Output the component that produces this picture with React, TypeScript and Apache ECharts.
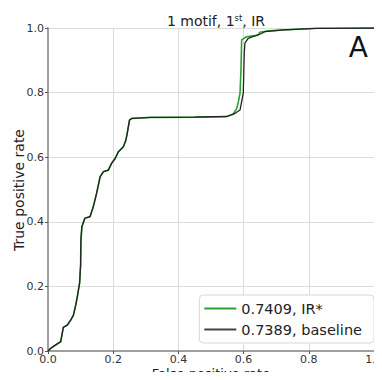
import React, { useEffect, useRef } from "react";
import * as echarts from "echarts";

const sharedFpr = [0, 0.008, 0.018, 0.039, 0.047, 0.059, 0.07, 0.078, 0.085, 0.09, 0.097, 0.1, 0.101, 0.104, 0.113, 0.129, 0.139, 0.149, 0.16, 0.17, 0.185, 0.195, 0.206, 0.216, 0.231, 0.239, 0.243, 0.25, 0.257, 0.313, 0.45, 0.548];
const sharedTpr = [0, 0.008, 0.015, 0.029, 0.073, 0.08, 0.096, 0.111, 0.142, 0.168, 0.211, 0.266, 0.344, 0.385, 0.411, 0.416, 0.447, 0.488, 0.54, 0.555, 0.56, 0.581, 0.596, 0.617, 0.632, 0.653, 0.674, 0.715, 0.72, 0.723, 0.724, 0.726];

const irFprUpper = [0.568, 0.579, 0.584, 0.589, 0.592, 0.594, 0.609, 0.645, 0.65, 0.676, 0.722, 0.824, 1.0];
const irTprUpper = [0.733, 0.751, 0.772, 0.798, 0.87, 0.963, 0.973, 0.978, 0.987, 0.991, 0.994, 0.999, 1.0];

const baseFprUpper = [0.574, 0.589, 0.599, 0.602, 0.604, 0.614, 0.655, 0.666, 0.722, 0.824, 1.0];
const baseTprUpper = [0.736, 0.746, 0.798, 0.922, 0.953, 0.968, 0.983, 0.989, 0.994, 0.999, 1.0];

const seriesNames = ["0.7409, IR*", "0.7389, baseline"];
const xAxisTitle = "False positive rate";
const yAxisTitle = "True positive rate";

const toPairs = (xs: number[], ys: number[]) => xs.map((x, i) => [x, ys[i]]);

const FONT = "DejaVu Sans";

export default function App() {
  const ref = useRef<HTMLDivElement>(null);
  useEffect(() => {
    if (!ref.current) return;
    const chart = echarts.init(ref.current, undefined, { renderer: "svg" });
    const irData = toPairs([...sharedFpr, ...irFprUpper], [...sharedTpr, ...irTprUpper]);
    const baseData = toPairs([...sharedFpr, ...baseFprUpper], [...sharedTpr, ...baseTprUpper]);
    const axisCommon = {
      type: "value",
      min: 0,
      max: 1,
      interval: 0.2,
      axisLine: { show: true, lineStyle: { color: "#9a9a9a", width: 1.5 } },
      axisTick: { show: true, length: 3, lineStyle: { color: "#555" } },
      axisLabel: {
        color: "#333",
        fontSize: 11,
        fontFamily: FONT,
        margin: 4,
        showMinLabel: true,
        showMaxLabel: true,
        formatter: (v: number) => v.toFixed(1),
      },
      splitLine: { show: true, lineStyle: { color: "#dcdcdc", width: 1 } },
    };
    chart.setOption({
      animation: false,
      backgroundColor: "#fff",
      textStyle: { fontFamily: FONT },
      title: {
        text: "1 motif, 1{sup|st}, IR",
        left: 211,
        top: 8,
        textAlign: "center",
        textStyle: {
          fontFamily: FONT,
          fontSize: 14,
          fontWeight: "normal",
          color: "#222",
          rich: {
            sup: { fontSize: 8.5, fontFamily: FONT, color: "#222", padding: [0, 0, 7, 0] },
          },
        },
      },
      grid: { left: 48, right: 8, top: 28, bottom: 29, containLabel: false, outerBoundsMode: "none" },
      xAxis: [
        {
          ...axisCommon,
          axisLabel: { ...axisCommon.axisLabel, margin: 3 },
        },
        {
          type: "value",
          min: 0,
          max: 1,
          position: "top",
          axisLine: { show: true, lineStyle: { color: "#9a9a9a", width: 1.5 } },
          axisTick: { show: false },
          axisLabel: { show: false },
          splitLine: { show: false },
        },
      ],
      yAxis: [
        {
          ...axisCommon,
        },
        {
          type: "value",
          min: 0,
          max: 1,
          position: "right",
          axisLine: { show: true, lineStyle: { color: "#9a9a9a", width: 1.5 } },
          axisTick: { show: false },
          axisLabel: { show: false },
          splitLine: { show: false },
        },
      ],
      legend: {
        orient: "vertical",
        right: 8,
        bottom: 37,
        itemWidth: 32,
        itemHeight: 2,
        itemGap: 6,
        icon: "rect",
        padding: [6, 12, 6, 5],
        backgroundColor: "#fff",
        borderColor: "#d8d8d8",
        borderWidth: 1,
        borderRadius: 4,
        textStyle: { fontFamily: FONT, fontSize: 14.5, color: "#222" },
        data: seriesNames,
      },
      graphic: [
        {
          type: "text",
          right: 14,
          top: 33,
          style: { text: "A", font: `28px "${FONT}"`, fill: "#111" },
        },
        {
          type: "text",
          x: 211,
          y: 373,
          style: {
            text: xAxisTitle,
            font: `13px "${FONT}"`,
            fill: "#222",
            align: "center",
            verticalAlign: "middle",
          },
        },
        {
          type: "text",
          x: 19,
          y: 190,
          rotation: Math.PI / 2,
          style: {
            text: yAxisTitle,
            font: `14px "${FONT}"`,
            fill: "#222",
            align: "center",
            verticalAlign: "middle",
          },
        },
      ],
      series: [
        {
          name: seriesNames[0],
          type: "line",
          data: irData,
          showSymbol: false,
          symbol: "none",
          lineStyle: { color: "#2ca02c", width: 1.6 },
          itemStyle: { color: "#2ca02c" },
        },
        {
          name: seriesNames[1],
          type: "line",
          data: baseData,
          showSymbol: false,
          symbol: "none",
          lineStyle: { color: "#222", width: 1.3 },
          itemStyle: { color: "#444" },
        },
      ],
    });
    return () => chart.dispose();
  }, []);
  return <div ref={ref} style={{ width: 382, height: 380, margin: -8 }} />;
}
